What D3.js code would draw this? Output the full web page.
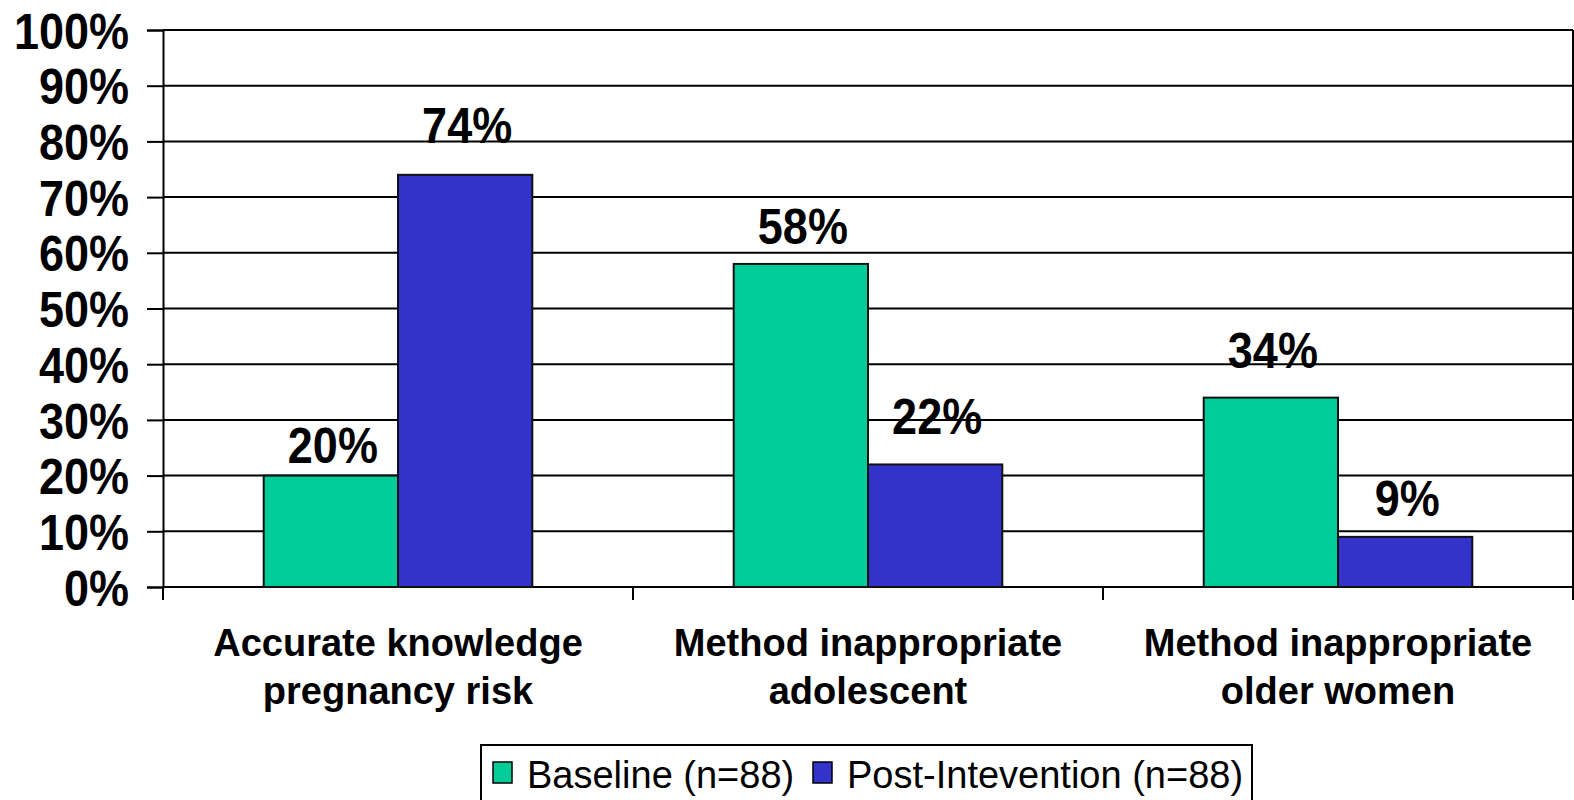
<!DOCTYPE html>
<html lang="en">
<head>
<meta charset="utf-8">
<title>Baseline vs Post-Intervention</title>
<script src="https://d3js.org/d3.v7.min.js"></script>
<style>
  body { margin: 0; background: #fff; }
  text { font-family: "Liberation Sans", Arial, sans-serif; }
</style>
</head>
<body>
<script>
// data
var categories = [
  ["Accurate knowledge", "pregnancy risk"],
  ["Method inappropriate", "adolescent"],
  ["Method inappropriate", "older women"]
];
var seriesNames = ["Baseline (n=88)", "Post-Intevention (n=88)"];
var baseline = [0.20, 0.58, 0.34];
var postIntervention = [0.74, 0.22, 0.09];
var seriesColors = ["#00cc99", "#3333cc"];
var yTicks = [0, 0.1, 0.2, 0.3, 0.4, 0.5, 0.6, 0.7, 0.8, 0.9, 1.0];

// the value labels were placed by hand in the original, gap above each bar top
var labelGap = [[13, 32], [20, 30], [30, 21]];

var width = 1574, height = 800;
var mLeft = 163, mRight = 1573, mTop = 30, mBottom = 587;
var stretch = 1.12; // the original text looks a little tall

var svg = d3.select("body").append("svg")
    .attr("width", width)
    .attr("height", height);

var catIdx = categories.map(function(d, i) { return i; });

var x0 = d3.scaleBand().domain(catIdx).range([mLeft, mRight]).padding(0);
var x1 = d3.scaleBand().domain([0, 1]).range([0, x0.bandwidth()])
    .paddingInner(0).paddingOuter(0.75);
var y = d3.scaleLinear().domain([0, 1]).range([mBottom, mTop]);

// grid lines
svg.append("g").selectAll("line")
    .data(yTicks)
    .enter().append("line")
    .attr("x1", mLeft).attr("x2", mRight)
    .attr("y1", function(d) { return y(d); })
    .attr("y2", function(d) { return y(d); })
    .attr("stroke", "#000")
    .attr("stroke-width", 2);

// right border
svg.append("line")
    .attr("x1", mRight).attr("x2", mRight)
    .attr("y1", y(1)).attr("y2", y(0))
    .attr("stroke", "#000").attr("stroke-width", 2);

// y axis
var yAxis = svg.append("g")
    .attr("transform", "translate(" + mLeft + ",0)")
    .call(d3.axisLeft(y).tickValues(yTicks).tickSize(16).tickPadding(18)
      .tickFormat(d3.format(".0%")));
yAxis.select(".domain").attr("stroke", "#000").attr("stroke-width", 2);
yAxis.selectAll(".tick line").attr("stroke", "#000").attr("stroke-width", 2);
yAxis.selectAll(".tick text")
    .attr("fill", "#000")
    .style("font-size", "45px")
    .style("font-weight", "bold")
    .attr("dy", "0.36em")
    .attr("transform", "scale(1," + stretch + ")");

// x axis ticks at category boundaries
var bounds = catIdx.map(function(i) { return x0(i); }).concat([mRight]);
svg.append("g").selectAll("line")
    .data(bounds)
    .enter().append("line")
    .attr("x1", function(d) { return d; })
    .attr("x2", function(d) { return d; })
    .attr("y1", mBottom).attr("y2", mBottom + 13)
    .attr("stroke", "#000").attr("stroke-width", 2);

// bars
var rows = catIdx.map(function(i) {
  return [baseline[i], postIntervention[i]].map(function(v, j) {
    return { v: v, j: j, gap: labelGap[i][j] };
  });
});

var groups = svg.append("g").selectAll("g")
    .data(rows)
    .enter().append("g")
    .attr("transform", function(d, i) { return "translate(" + x0(i) + ",0)"; });

groups.selectAll("rect")
    .data(function(d) { return d; })
    .enter().append("rect")
    .attr("x", function(d) { return x1(d.j); })
    .attr("y", function(d) { return y(d.v); })
    .attr("width", x1.bandwidth())
    .attr("height", function(d) { return y(0) - y(d.v); })
    .attr("fill", function(d) { return seriesColors[d.j]; })
    .attr("stroke", "#111")
    .attr("stroke-width", 2);

groups.selectAll("text.val")
    .data(function(d) { return d; })
    .enter().append("text")
    .attr("class", "val")
    .attr("transform", function(d) {
      return "translate(" + (x1(d.j) + x1.bandwidth() / 2 + 2) + "," +
        (y(d.v) - d.gap) + ") scale(1," + stretch + ")";
    })
    .attr("text-anchor", "middle")
    .style("font-size", "45px")
    .style("font-weight", "bold")
    .text(function(d) { return Math.round(d.v * 100) + "%"; });

// category labels
var catLabels = svg.append("g").selectAll("text")
    .data(categories)
    .enter().append("text")
    .attr("text-anchor", "middle")
    .attr("x", function(d, i) { return x0(i) + x0.bandwidth() / 2; })
    .attr("y", 656)
    .style("font-size", "38px")
    .style("font-weight", "bold");

catLabels.selectAll("tspan")
    .data(function(d) { return d; })
    .enter().append("tspan")
    .attr("x", function() { return this.parentNode.getAttribute("x"); })
    .attr("dy", function(d, k) { return k === 0 ? 0 : 48; })
    .text(function(d) { return d; });

// legend
var legend = svg.append("g");
legend.append("rect")
    .attr("x", 481).attr("y", 745)
    .attr("width", 771).attr("height", 70)
    .attr("fill", "#fff")
    .attr("stroke", "#000").attr("stroke-width", 2);

var legendX = [493, 813];
var items = legend.selectAll("g.item")
    .data(seriesNames)
    .enter().append("g")
    .attr("class", "item")
    .attr("transform", function(d, i) { return "translate(" + legendX[i] + ",0)"; });

items.append("rect")
    .attr("x", 0).attr("y", 762)
    .attr("width", 19).attr("height", 21)
    .attr("fill", function(d, i) { return seriesColors[i]; })
    .attr("stroke", "#000").attr("stroke-width", 1.5);

items.append("text")
    .attr("x", 34).attr("y", 788)
    .style("font-size", "38px")
    .text(function(d) { return d; });
</script>
</body>
</html>
